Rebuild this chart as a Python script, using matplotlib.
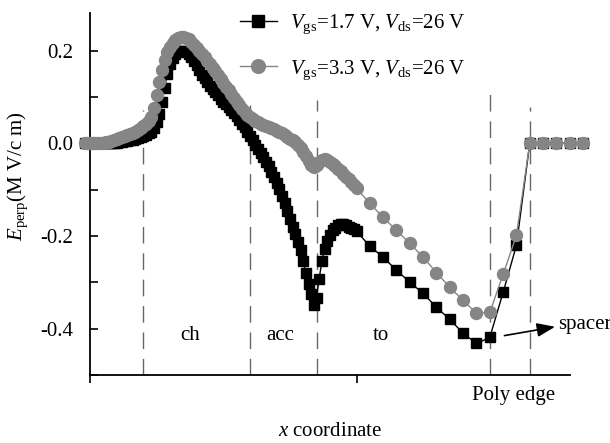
import matplotlib
matplotlib.use("Agg")
import matplotlib.pyplot as plt
from matplotlib.ticker import FormatStrFormatter, MultipleLocator

plt.rcParams['font.family'] = ['Liberation Serif', 'DejaVu Serif']
plt.rcParams['mathtext.fontset'] = 'custom'
plt.rcParams['mathtext.rm'] = 'Liberation Serif'
plt.rcParams['mathtext.it'] = 'Liberation Serif:italic'
plt.rcParams['axes.unicode_minus'] = False

# x grid of the simulation (arbitrary units), dense part then coarse part
x_coord = list(range(-2, 101)) + list(range(105, 186, 5))

# Vgs = 1.7 V
e_low = [0, 0, 0, 0, 0, 0, 0, 0, 0, 0, 0, 0,
         0.001, 0.002, 0.003, 0.004, 0.005, 0.007, 0.008, 0.009, 0.011, 0.013,
         0.015, 0.018, 0.021, 0.025, 0.032, 0.045, 0.064, 0.090, 0.120, 0.150,
         0.170, 0.183, 0.192, 0.198, 0.200, 0.199, 0.196, 0.192, 0.186, 0.178,
         0.168, 0.157, 0.148, 0.140, 0.132, 0.124, 0.117, 0.110, 0.103, 0.096,
         0.090, 0.084, 0.078, 0.072, 0.066, 0.058, 0.050, 0.042, 0.034, 0.025,
         0.015, 0.006, -0.003, -0.012, -0.021, -0.030, -0.040, -0.050, -0.061, -0.073,
         -0.086, -0.099, -0.114, -0.130, -0.147, -0.164, -0.180, -0.196, -0.212, -0.230,
         -0.255, -0.280, -0.303, -0.325, -0.348, -0.333, -0.292, -0.255, -0.228, -0.210,
         -0.197, -0.188, -0.182, -0.177, -0.175, -0.175, -0.177, -0.180, -0.183, -0.186, -0.190,
         -0.222, -0.246, -0.274, -0.300, -0.324, -0.354, -0.380, -0.410, -0.432, -0.419,
         -0.322, -0.220, 0, 0, 0, 0, 0]

# Vgs = 3.3 V
e_high = [0, 0, 0, 0, 0, 0, 0,
          0.001, 0.002, 0.003, 0.005, 0.007,
          0.009, 0.011, 0.013, 0.015, 0.017, 0.019, 0.022, 0.025, 0.029, 0.033,
          0.037, 0.042, 0.048, 0.056, 0.075, 0.105, 0.133, 0.158, 0.180, 0.196,
          0.208, 0.217, 0.223, 0.227, 0.229, 0.230, 0.228, 0.224, 0.219, 0.213,
          0.206, 0.199, 0.192, 0.185, 0.178, 0.171, 0.163, 0.155, 0.147, 0.139,
          0.131, 0.122, 0.114, 0.106, 0.098, 0.090, 0.082, 0.074, 0.067, 0.061,
          0.056, 0.052, 0.048, 0.045, 0.042, 0.040, 0.037, 0.035, 0.033, 0.030,
          0.027, 0.024, 0.021, 0.018, 0.014, 0.010, 0.006, 0.002, -0.003, -0.010,
          -0.018, -0.028, -0.038, -0.046, -0.051, -0.048, -0.040, -0.036, -0.035, -0.037,
          -0.041, -0.045, -0.050, -0.055, -0.060, -0.066, -0.072, -0.078, -0.084, -0.091, -0.097,
          -0.130, -0.160, -0.188, -0.216, -0.246, -0.279, -0.311, -0.339, -0.367, -0.365,
          -0.283, -0.199, 0, 0, 0, 0, 0]

labels = [r"$V_{\rm gs}$=1.7 V, $V_{\rm ds}$=26 V",
          r"$V_{\rm gs}$=3.3 V, $V_{\rm ds}$=26 V"]

# region boundaries (x) and the top end of each dashed line (y)
bound_x = [20, 60, 85, 150, 165]
bound_top = [0.071, 0.082, 0.093, 0.114, 0.078]
regions = ["ch", "acc", "to"]
region_x = [37.5, 71.5, 109]

fig = plt.figure(figsize=(6.1, 4.43), dpi=100)
ax = fig.add_axes([0.1475, 0.1535, 0.7865, 0.8172])

for bx, bt in zip(bound_x, bound_top):
    ax.plot([bx, bx], [-0.5, bt], color='#666666', lw=1.0, ls=(0, (12, 7)), zorder=1)

l1, = ax.plot(x_coord, e_low, color='black', lw=1.0, marker='s', ms=7.6,
              mec='black', mfc='black', clip_on=False, zorder=3)
l2, = ax.plot(x_coord, e_high, color='#858585', lw=1.0, marker='o', ms=8.6,
              mec='#858585', mfc='#858585', clip_on=False, zorder=4)

ax.legend([l1, l2], labels, loc='upper left', bbox_to_anchor=(0.273, 1.052),
          frameon=False, fontsize=15, handlelength=1.8, handletextpad=0.6,
          labelspacing=1.05, markerscale=1.15)

for name, rx in zip(regions, region_x):
    ax.text(rx, -0.415, name, fontsize=15, ha='center', va='center')

ax.text(159, -0.545, "Poly edge", fontsize=15, ha='center', va='center', clip_on=False)
ax.annotate("", xy=(174.5, -0.396), xytext=(155.5, -0.415),
            annotation_clip=False,
            arrowprops=dict(arrowstyle='-|>,head_length=1.1,head_width=0.42',
                            color='black', lw=1.2, shrinkA=0, shrinkB=0))
ax.text(175.5, -0.392, "spacer", fontsize=15, va='center', clip_on=False)

ax.set_xlim(0, 180)
ax.set_ylim(-0.5, 0.281)
ax.set_xticks([0, 100])
ax.set_xticklabels([])
ax.yaxis.set_major_locator(MultipleLocator(0.2))
ax.yaxis.set_minor_locator(MultipleLocator(0.1))
ax.yaxis.set_major_formatter(FormatStrFormatter('%.1f'))
ax.tick_params(axis='y', which='both', direction='in', length=6, width=1.2,
               labelsize=15, pad=12)
ax.tick_params(axis='x', direction='out', length=6, width=1.2)

for side in ['top', 'right']:
    ax.spines[side].set_visible(False)
for side in ['left', 'bottom']:
    ax.spines[side].set_linewidth(1.3)

ax.set_xlabel(r"$x$ coordinate", fontsize=15, labelpad=24)
ax.set_ylabel(r"$E_{\rm perp}$(M V/c m)", fontsize=15, labelpad=6)
ax.yaxis.set_label_coords(-0.125, 0.55)

fig.savefig("out.png", dpi=100)
